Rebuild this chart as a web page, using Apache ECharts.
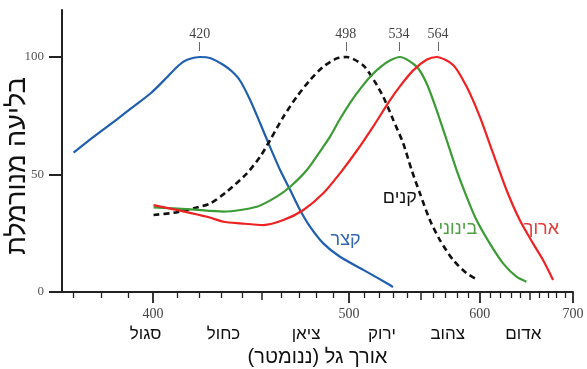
<!DOCTYPE html>
<html><head><meta charset="utf-8">
<script src="https://cdn.jsdelivr.net/npm/echarts@6/dist/echarts.min.js"></script>
<style>html,body{margin:0;padding:0;background:#fff}#c{width:587px;height:369px}</style>
</head><body><div id="c"></div>
<script>
// ---- data (wavelength in nm, normalized absorbance) ----
const shortNm  = [370, 377.2, 385.8, 392.4, 399.3, 405.8, 410.7, 414.4, 420, 425, 431, 435.1, 439.1, 444, 449.1, 453.4, 459.6, 465.1, 470.6, 476.3, 484.1, 494.3, 509.3, 527.5, 529.7];
const shortVal = [59.3, 66.1, 73.5, 79.1, 84.8, 91.4, 96.4, 98.8, 100, 99.5, 96.6, 93.8, 89.8, 81.7, 71.8, 63.3, 51.9, 43.4, 34.9, 27.8, 20.7, 15.0, 9.4, 3.0, 2.1];

const rodNm  = [400.2, 408.6, 417.3, 424.8, 432.6, 442.4, 449.1, 454.3, 461.4, 468.8, 476.3, 484.1, 492.3, 498.5, 509.3, 517, 522.8, 529.9, 537.1, 543.4, 549.7, 557.5, 565.6, 576.6, 588.2, 598.5];
const rodVal = [32.8, 33.7, 35.6, 37.7, 42.7, 50.5, 57.6, 64.7, 74.6, 83.1, 90.2, 95.9, 99.4, 100, 96.4, 89.5, 83.1, 73.2, 63.3, 51.9, 42.0, 30.6, 22.1, 13.6, 8.0, 5.1];

const mediumNm  = [400.2, 415.8, 431, 447.4, 457.8, 465.1, 474.5, 484.1, 488.2, 494.3, 500.7, 507.1, 513.7, 520.6, 527.5, 534.7, 547.2, 554.9, 562.9, 571.1, 579.5, 588.2, 597.1, 609.4, 622.3, 635.8, 646.2];
const mediumVal = [36.0, 35.2, 34.2, 36.3, 40.6, 44.8, 51.9, 61.8, 66.1, 73.6, 80.5, 86.3, 91.5, 95.6, 98.5, 100, 95.9, 88.8, 77.4, 64.7, 51.9, 40.6, 30.6, 20.7, 12.2, 6.5, 4.4];

const longNm  = [400.2, 411.4, 423.3, 431, 439.1, 450.8, 461.4, 472.5, 484.1, 494.3, 504.9, 516, 527.5, 534.7, 544.6, 554.9, 562.9, 576.6, 588.2, 600.1, 612.6, 625.7, 639.2, 653.3, 664.4, 675.9];
const longVal = [37.0, 34.6, 32.0, 29.9, 29.2, 28.5, 30.6, 34.9, 42.0, 50.5, 60.0, 70.5, 81.5, 87.5, 94.3, 98.8, 100, 96.6, 87.4, 74.6, 59.0, 43.4, 30.6, 20.7, 13.6, 5.1];

const seriesNames = ['קצר', 'קנים', 'בינוני', 'ארוך'];
const peakNm = [420, 498, 534, 564];
const majorTickNm = [400, 500, 600, 700];
const mediumTickNm = [450, 550, 650];
const minorTickNm = [370, 380, 390, 410, 420, 430, 440, 460, 470, 480, 490, 510, 520, 530, 540, 560, 570, 580, 590, 610, 620, 630, 640, 660, 670, 680, 690];
const colorNameNm = [397, 431, 474, 522, 572, 643];
const colorNames = ['סגול', 'כחול', 'ציאן', 'ירוק', 'צהוב', 'אדום'];
const yTicks = [0, 50, 100];
const xTitle = 'אורך גל (ננומטר)';
const yTitle = 'בליעה מנורמלת';

// ---- reciprocal (wavenumber) axis ----
const u = nm => -1000 / nm;
const toNm = v => Math.round(-1000 / v);
const pairs = (xs, ys) => xs.map((x, i) => [u(x), ys[i]]);

const XMIN = u(366), XMAX = u(700);
const serif = 'Liberation Serif, DejaVu Serif, serif';
const sans = 'Liberation Sans, DejaVu Sans, sans-serif';

function xAx(extra) {
  return Object.assign({
    type: 'value', min: XMIN, max: XMAX, position: 'bottom',
    splitLine: { show: false },
    axisLine: { show: false, onZero: false },
    axisTick: { show: false },
    axisLabel: { show: false },
    nameMoveOverlap: false
  }, extra);
}

const chart = echarts.init(document.getElementById('c'), null, { renderer: 'canvas' });

function lineSeries(name, xs, ys, color, dashed, lbl) {
  return {
    type: 'line', name: name, data: pairs(xs, ys), showSymbol: false, smooth: 0.25,
    xAxisIndex: 0, yAxisIndex: 0, silent: true, z: 3,
    lineStyle: { color: color, width: dashed ? 2.6 : 2.2, type: dashed ? [6, 4] : 'solid' },
    markPoint: {
      symbol: 'circle', symbolSize: 0, silent: true,
      data: [{ coord: [u(lbl.nm), lbl.v], label: { show: true, position: 'inside', formatter: name, color: lbl.color, fontSize: 18, fontFamily: sans } }]
    }
  };
}

chart.setOption({
  animation: false,
  backgroundColor: '#fff',
  grid: { left: 62, right: 14, top: 10, bottom: 77, containLabel: false, outerBoundsMode: 'none' },
  xAxis: [
    xAx({
      axisLine: { show: true, onZero: false, lineStyle: { color: '#222', width: 1.8 } },
      axisTick: { show: true, customValues: majorTickNm.map(u), length: 11, lineStyle: { color: '#222', width: 1.8 } },
      axisLabel: { show: true, customValues: majorTickNm.map(u), formatter: v => String(toNm(v)), margin: 15, fontFamily: serif, fontSize: 14, color: '#444' },
      name: xTitle, nameLocation: 'middle', nameGap: 55,
      nameTextStyle: { fontSize: 20, fontFamily: sans, color: '#111' }
    }),
    xAx({ axisTick: { show: true, customValues: mediumTickNm.map(u), length: 8, lineStyle: { color: '#222', width: 1.5 } } }),
    xAx({ axisTick: { show: true, customValues: minorTickNm.map(u), length: 6, lineStyle: { color: '#222', width: 1.3 } } }),
    xAx({
      axisLabel: {
        show: true, customValues: colorNameNm.map(u), margin: 34, fontSize: 17, fontFamily: sans, color: '#111',
        formatter: v => { const i = colorNameNm.findIndex(n => Math.abs(u(n) - v) < 1e-9); return i >= 0 ? colorNames[i] : ''; }
      }
    }),
    xAx({
      position: 'top', offset: -41,
      axisTick: { show: true, customValues: peakNm.map(u), length: 9, lineStyle: { color: '#666', width: 1 } },
      axisLabel: { show: true, customValues: peakNm.map(u), formatter: v => String(toNm(v)), margin: 10, fontFamily: serif, fontSize: 14, color: '#444' }
    })
  ],
  yAxis: {
    type: 'value', min: 0, max: 120,
    splitLine: { show: false },
    axisLine: { show: true, onZero: false, lineStyle: { color: '#222', width: 2 } },
    axisTick: { show: true, customValues: yTicks, length: 13, lineStyle: { color: '#222', width: 2 } },
    axisLabel: { show: true, customValues: yTicks, margin: 18, fontFamily: serif, fontSize: 13, color: '#555' },
    name: yTitle, nameLocation: 'middle', nameRotate: 90, nameGap: 31, nameMoveOverlap: false,
    nameTextStyle: { fontSize: 27, fontFamily: sans, color: '#111', padding: [0, 30, 0, 0] }
  },
  series: [
    lineSeries(seriesNames[0], shortNm, shortVal, '#1f5fae', false, { nm: 497.8, v: 22.1, color: '#3467b0' }),
    lineSeries(seriesNames[1], rodNm, rodVal, '#111111', true, { nm: 534.7, v: 40.0, color: '#111' }),
    lineSeries(seriesNames[2], mediumNm, mediumVal, '#3b9c35', false, { nm: 580.6, v: 26.6, color: '#4d9f42' }),
    lineSeries(seriesNames[3], longNm, longVal, '#ee2222', false, { nm: 662.6, v: 26.8, color: '#e53a3a' })
  ]
});
</script></body></html>
